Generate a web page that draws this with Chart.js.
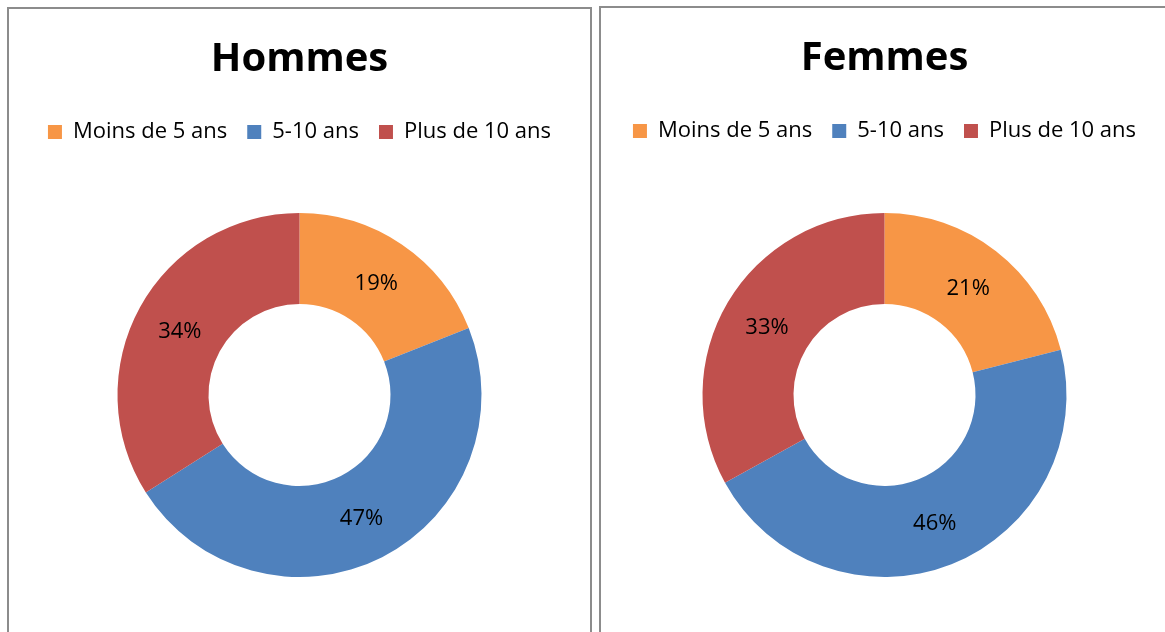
<!DOCTYPE html>
<html>
<head>
<meta charset="utf-8">
<script src="https://cdn.jsdelivr.net/npm/chart.js@4"></script>
<style>
  html, body { margin: 0; padding: 0; background: #ffffff; overflow: hidden; }
  body { width: 1165px; height: 632px; position: relative; }
  .panel { position: absolute; border: 2px solid #8c8c8c; background: #fff; box-sizing: border-box; overflow: hidden; }
  #p1 { left: 7px; top: 7px; width: 585px; height: 700px; }
  #p2 { left: 599px; top: 6px; width: 600px; height: 700px; }
  canvas { position: absolute; left: 0; top: 0; }
</style>
</head>
<body>
<div class="panel" id="p1"><canvas id="c1"></canvas></div>
<div class="panel" id="p2"><canvas id="c2"></canvas></div>
<script>
const categories = ['Moins de 5 ans', '5-10 ans', 'Plus de 10 ans'];
const hommesValues = [19, 47, 34];
const femmesValues = [21, 46, 33];
const seriesColors = ['#F79646', '#4F81BD', '#C0504D'];
const titles = ['Hommes', 'Femmes'];

const FONT = "'Open Sans', Lato, sans-serif";

const pctLabels = {
  id: 'pctLabels',
  afterDatasetsDraw(chart) {
    const ctx = chart.ctx;
    const meta = chart.getDatasetMeta(0);
    const data = chart.data.datasets[0].data;
    const total = data.reduce((a, b) => a + b, 0);
    ctx.save();
    ctx.font = "22px " + FONT;
    ctx.fillStyle = '#000';
    ctx.textAlign = 'center';
    ctx.textBaseline = 'middle';
    meta.data.forEach((arc, i) => {
      const p = arc.tooltipPosition(true);
      ctx.fillText(Math.round(data[i] / total * 100) + '%', p.x, p.y + 2);
    });
    ctx.restore();
  }
};

function makeChart(id, w, h, padBottom, title, values) {
  const cv = document.getElementById(id);
  cv.width = w; cv.height = h;
  cv.style.width = w + 'px'; cv.style.height = h + 'px';
  return new Chart(cv, {
    type: 'doughnut',
    data: {
      labels: categories,
      datasets: [{ data: values, backgroundColor: seriesColors, borderWidth: 0, hoverOffset: 0, radius: 182 }]
    },
    options: {
      responsive: false,
      animation: false,
      cutout: '50%',
      layout: { padding: { top: 0, bottom: padBottom, left: 0, right: 0 } },
      plugins: {
        title: {
          display: true, text: title, color: '#000',
          font: { family: FONT, size: 40, weight: 'bold', lineHeight: 1.2 },
          padding: { top: 27, bottom: 17 }
        },
        legend: {
          display: true, position: 'top',
          labels: {
            color: '#000', boxWidth: 14, boxHeight: 14, padding: 20,
            font: { family: FONT, size: 22 }
          }
        },
        tooltip: { enabled: false }
      }
    },
    plugins: [pctLabels]
  });
}

makeChart('c1', 581, 640, 12, titles[0], hommesValues);
makeChart('c2', 567, 640, 10, titles[1], femmesValues);
</script>
</body>
</html>
